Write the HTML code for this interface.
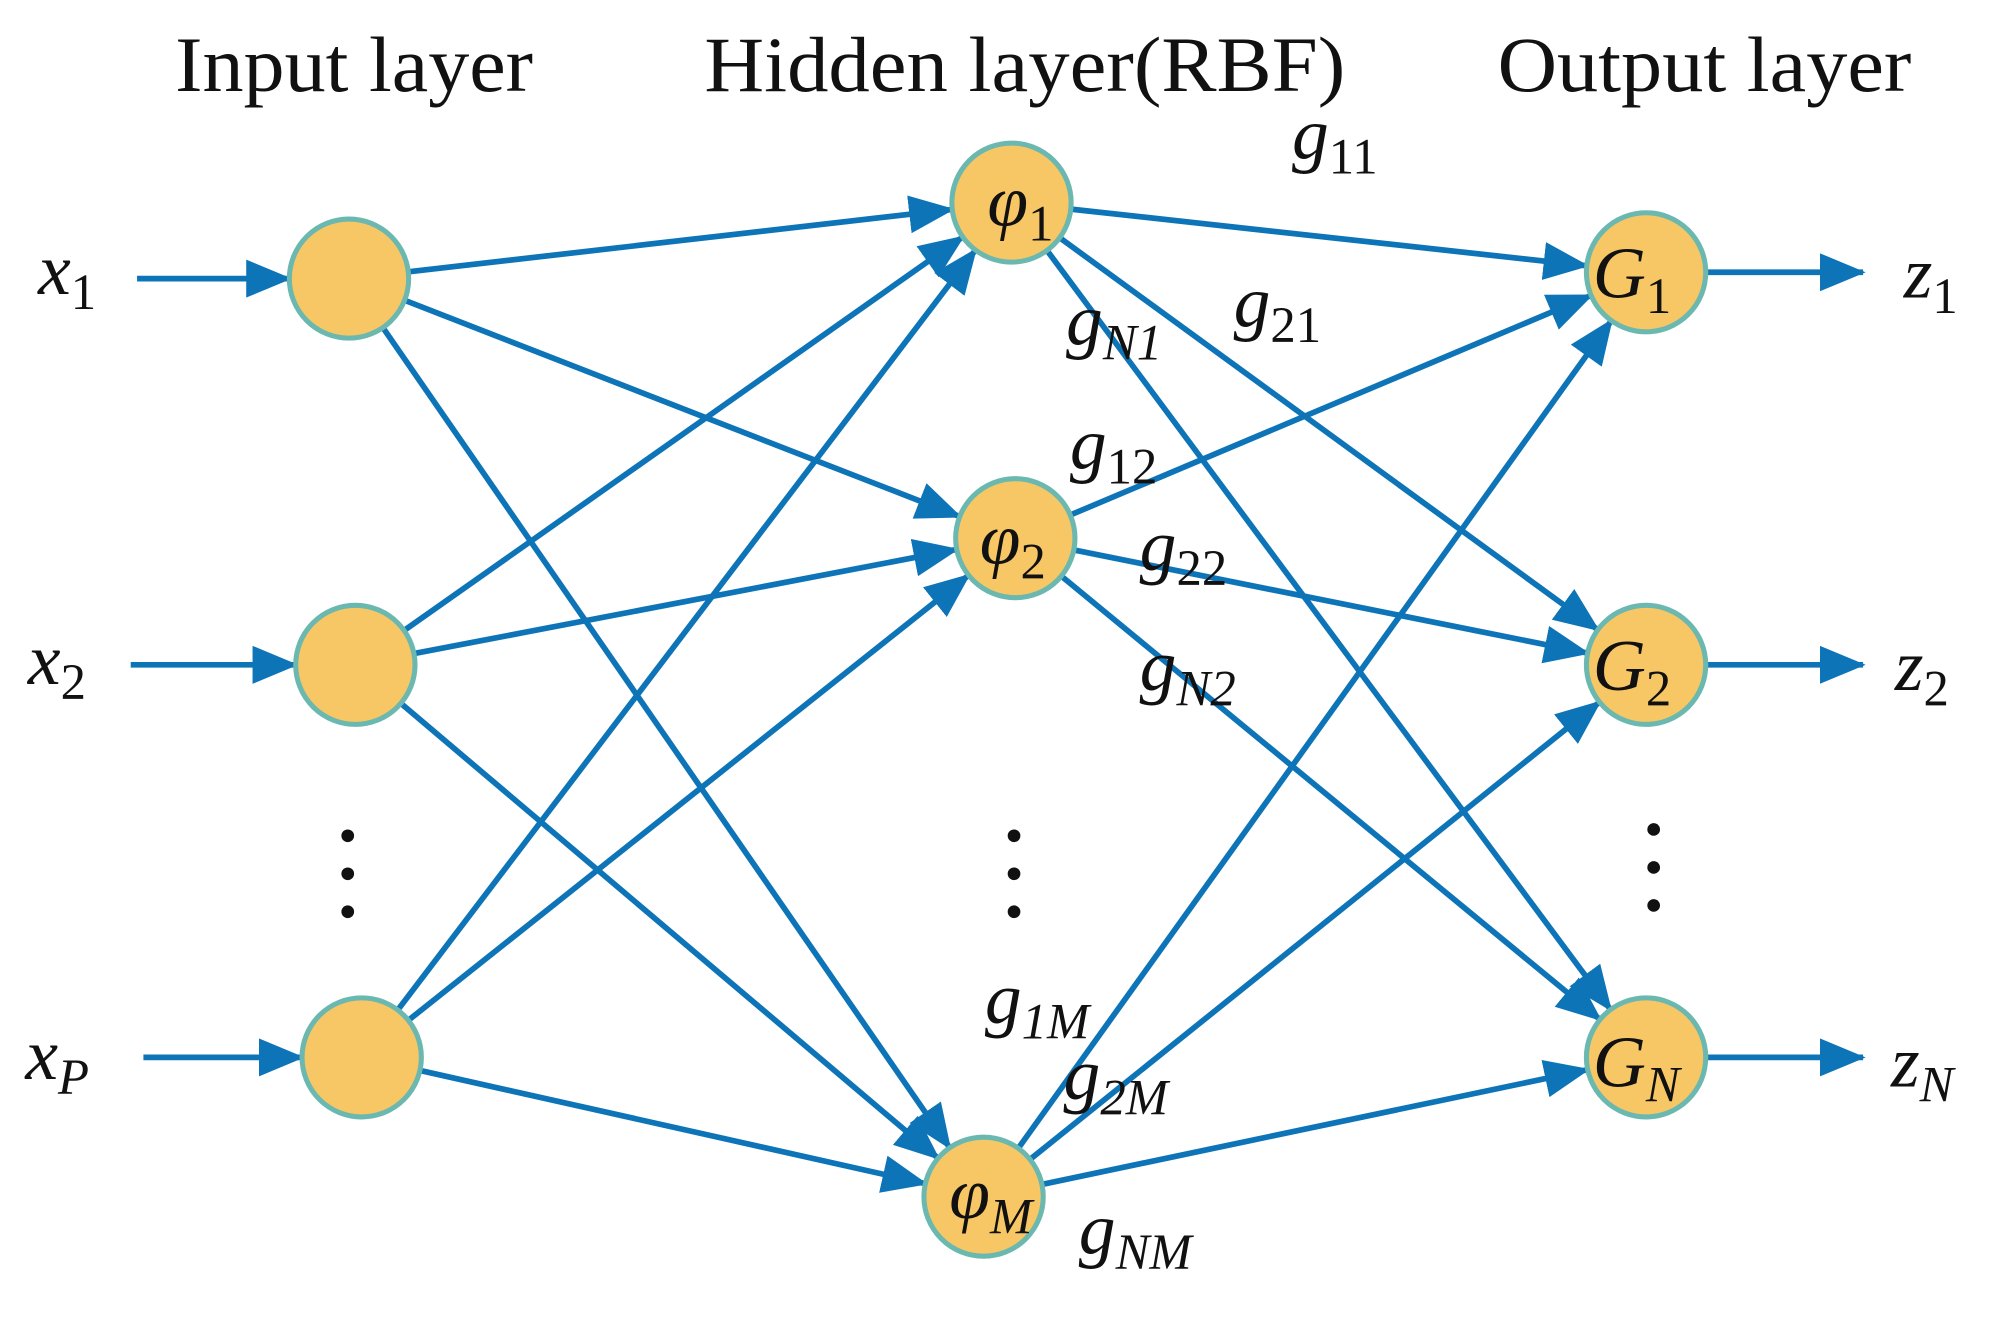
<!DOCTYPE html>
<html><head><meta charset="utf-8"><style>
html,body{margin:0;padding:0;background:#fff;width:1990px;height:1317px;overflow:hidden}
svg{display:block}
text{font-family:"Liberation Serif",serif;fill:#111}
.t{font-size:62px}
.v{font-size:58px;font-style:italic}
.s{font-size:40px;font-style:italic}
.n{font-size:40px;font-style:normal}
</style></head><body>
<svg id="s" width="1990" height="1317" viewBox="0 0 1568 1040" preserveAspectRatio="none" xmlns="http://www.w3.org/2000/svg">
<defs><marker id="a" markerUnits="userSpaceOnUse" markerWidth="36" markerHeight="30" refX="34" refY="15" orient="auto"><path d="M0,0 L36,15 L0,30 Z" fill="#0e74b8"/></marker></defs>
<g id="lines" stroke="#0e74b8" stroke-width="4.5" fill="none"></g>
<g id="nodes" fill="#f8c765" stroke="#6bb8b0" stroke-width="4"></g>
<text class="t" x="138" y="72" textLength="282" lengthAdjust="spacingAndGlyphs">Input layer</text>
<text class="t" x="555" y="72" textLength="505" lengthAdjust="spacingAndGlyphs">Hidden layer(RBF)</text>
<text class="t" x="1180" y="72" textLength="326" lengthAdjust="spacingAndGlyphs">Output layer</text>
<text class="v" x="30" y="232">x<tspan class="n" dy="12">1</tspan></text>
<text class="v" x="22" y="540">x<tspan class="n" dy="12">2</tspan></text>
<text class="v" x="20" y="852">x<tspan class="s" dy="12">P</tspan></text>
<text class="v" x="1500" y="235">z<tspan class="n" dy="12">1</tspan></text>
<text class="v" x="1493" y="545">z<tspan class="n" dy="12">2</tspan></text>
<text class="v" x="1490" y="858">z<tspan class="s" dy="12">N</tspan></text>
<g fill="#111"><circle cx="274" cy="660" r="5"/><circle cx="274" cy="690" r="5"/><circle cx="274" cy="720" r="5"/>
<circle cx="799" cy="660" r="5"/><circle cx="799" cy="690" r="5"/><circle cx="799" cy="720" r="5"/>
<circle cx="1303" cy="655" r="5"/><circle cx="1303" cy="685" r="5"/><circle cx="1303" cy="715" r="5"/></g>
<g id="lab"></g>
</svg>
<script>
var NS="http://www.w3.org/2000/svg";
var I=[[275,220],[280,525],[285,835]],H=[[797,160],[800,425],[775,945]],O=[[1297,215],[1297,525],[1297,835]],R=47;
var L=document.getElementById('lines'),N=document.getElementById('nodes'),B=document.getElementById('lab');
function ln(x1,y1,x2,y2,r1,r2){var dx=x2-x1,dy=y2-y1,d=Math.hypot(dx,dy);var e=document.createElementNS(NS,'line');
e.setAttribute('x1',x1+dx/d*r1);e.setAttribute('y1',y1+dy/d*r1);e.setAttribute('x2',x2-dx/d*r2);e.setAttribute('y2',y2-dy/d*r2);e.setAttribute('marker-end','url(#a)');L.appendChild(e);}
I.forEach(function(a){H.forEach(function(b){ln(a[0],a[1],b[0],b[1],R,R);});});
H.forEach(function(a){O.forEach(function(b){ln(a[0],a[1],b[0],b[1],R,R);});});
ln(108,I[0][1],I[0][0],I[0][1],0,R);ln(103,I[1][1],I[1][0],I[1][1],0,R);ln(113,I[2][1],I[2][0],I[2][1],0,R);
O.forEach(function(o){ln(o[0],o[1],1468,o[1],R,0);});
[].concat(I,H,O).forEach(function(p){var c=document.createElementNS(NS,'circle');c.setAttribute('cx',p[0]);c.setAttribute('cy',p[1]);c.setAttribute('r',R);N.appendChild(c);});
function t(x,y,main,sub){var e=document.createElementNS(NS,'text');e.setAttribute('x',x);e.setAttribute('y',y);e.setAttribute('class','v');e.textContent=main;
var s=document.createElementNS(NS,'tspan');s.setAttribute('dy','12');s.setAttribute('class',/[A-Z]/.test(sub)?'s':'n');s.textContent=sub;e.appendChild(s);B.appendChild(e);}
t(778,178,'φ','1');t(772,445,'φ','2');t(748,962,'φ','M');
t(1255,235,'G','1');t(1255,545,'G','2');t(1255,858,'G','N');
t(1018,125,'g','11');t(972,258,'g','21');t(840,272,'g','N1');t(843,370,'g','12');t(898,450,'g','22');t(898,545,'g','N2');
t(776,808,'g','1M');t(838,868,'g','2M');t(850,990,'g','NM');
</script>
</body></html>
